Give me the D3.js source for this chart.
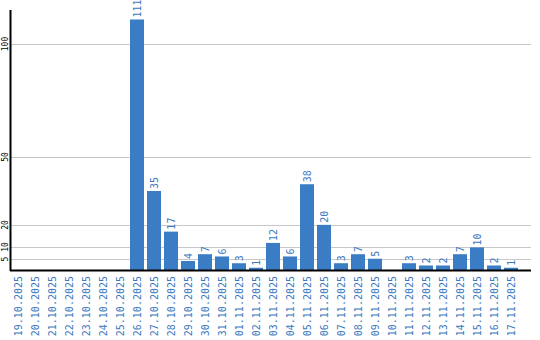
<!DOCTYPE html>
<html><head><meta charset="utf-8">
<script src="https://cdn.jsdelivr.net/npm/d3@7"></script>
<style>body{margin:0;background:#fff}svg{display:block}</style>
</head><body>
<svg id="c" width="540" height="340"></svg>
<script>
const categories = ["19.10.2025","20.10.2025","21.10.2025","22.10.2025","23.10.2025","24.10.2025","25.10.2025","26.10.2025","27.10.2025","28.10.2025","29.10.2025","30.10.2025","31.10.2025","01.11.2025","02.11.2025","03.11.2025","04.11.2025","05.11.2025","06.11.2025","07.11.2025","08.11.2025","09.11.2025","10.11.2025","11.11.2025","12.11.2025","13.11.2025","14.11.2025","15.11.2025","16.11.2025","17.11.2025"];
const values = [0,0,0,0,0,0,0,111,35,17,4,7,6,3,1,12,6,38,20,3,7,5,0,3,2,2,7,10,2,1];
const yTicks = [5,10,20,50,100];

const svg = d3.select("#c");
const barColor = "#3b7dc4", textColor = "#3a78c0";
const x = d3.scaleBand().domain(categories).range([11, 518]).paddingInner(3/17).paddingOuter(0);
const y = d3.scaleLinear().domain([0, 100]).range([270, 44.3]);
const xEnd = 531;

// gridlines
svg.append("g").selectAll("line").data(yTicks).join("line")
  .attr("x1", 11).attr("x2", xEnd)
  .attr("y1", d => Math.round(y(d)) + 0.5).attr("y2", d => Math.round(y(d)) + 0.5)
  .attr("stroke", "#c8c8c8").attr("stroke-width", 1);

// y tick labels
svg.append("g").selectAll("text").data(yTicks).join("text")
  .attr("transform", d => `translate(7.5,${Math.round(y(d))}) rotate(-90)`)
  .attr("text-anchor", "middle")
  .attr("font-family", "DejaVu Sans Mono, monospace").attr("font-size", 8)
  .attr("fill", "#000").text(d => d);

const rows = values.map((v,i)=>({c:categories[i],v}));

// bars
svg.append("g").selectAll("rect").data(rows.filter(d => d.v > 0)).join("rect")
  .attr("x", d => x(d.c)).attr("width", x.bandwidth())
  .attr("y", d => y(d.v)).attr("height", d => y(0) - y(d.v))
  .attr("fill", barColor);

// value labels
svg.append("g").selectAll("text").data(rows.filter(d => d.v > 0)).join("text")
  .attr("transform", d => `translate(${x(d.c) + x.bandwidth()/2},${y(d.v) - 2}) rotate(-90)`)
  .attr("dy", "0.35em")
  .attr("font-family", "DejaVu Sans Mono, monospace").attr("font-size", 10)
  .attr("fill", textColor).text(d => d.v);

// x labels
svg.append("g").selectAll("text").data(categories).join("text")
  .attr("transform", d => `translate(${x(d) + x.bandwidth()/2},276) rotate(-90)`)
  .attr("text-anchor", "end").attr("dy", "0.35em")
  .attr("font-family", "DejaVu Sans Mono, monospace").attr("font-size", 10)
  .attr("fill", textColor).text(d => d);

// axes lines
svg.append("line").attr("x1", 10.5).attr("x2", 10.5).attr("y1", 10).attr("y2", 271)
  .attr("stroke", "#000").attr("stroke-width", 2);
svg.append("line").attr("x1", 10).attr("x2", xEnd).attr("y1", 270.5).attr("y2", 270.5)
  .attr("stroke", "#000").attr("stroke-width", 2);
</script>
</body></html>
